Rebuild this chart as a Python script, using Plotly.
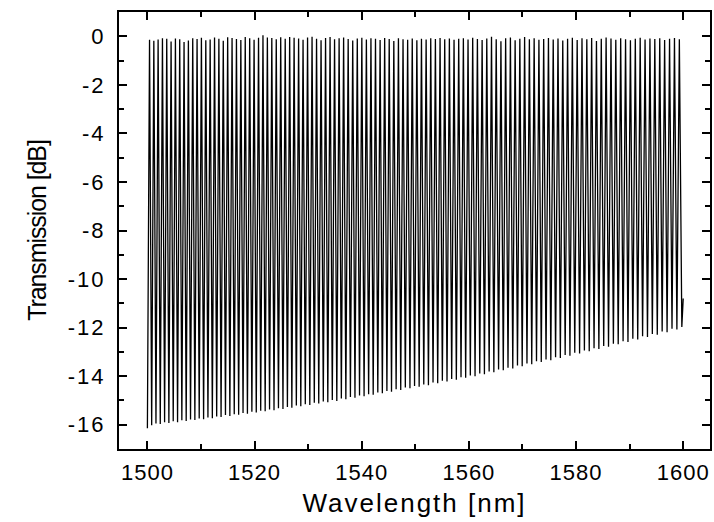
import plotly.graph_objects as go

# Fringe minima (troughs) of the transmission spectrum
trough_nm = [
    1500.00, 1500.80, 1501.60, 1502.40, 1503.21, 1504.01, 1504.82, 1505.63, 1506.43, 1507.24,
    1508.05, 1508.86, 1509.67, 1510.49, 1511.30, 1512.12, 1512.93, 1513.75, 1514.57, 1515.39,
    1516.21, 1517.03, 1517.85, 1518.67, 1519.50, 1520.32, 1521.15, 1521.98, 1522.80, 1523.63,
    1524.46, 1525.30, 1526.13, 1526.96, 1527.80, 1528.63, 1529.47, 1530.31, 1531.15, 1531.98,
    1532.83, 1533.67, 1534.51, 1535.35, 1536.20, 1537.04, 1537.89, 1538.74, 1539.59, 1540.44,
    1541.29, 1542.14, 1543.00, 1543.85, 1544.70, 1545.56, 1546.42, 1547.28, 1548.14, 1549.00,
    1549.86, 1550.72, 1551.58, 1552.45, 1553.31, 1554.18, 1555.05, 1555.92, 1556.79, 1557.66,
    1558.53, 1559.40, 1560.27, 1561.15, 1562.03, 1562.90, 1563.78, 1564.66, 1565.54, 1566.42,
    1567.30, 1568.19, 1569.07, 1569.95, 1570.84, 1571.73, 1572.62, 1573.51, 1574.40, 1575.29,
    1576.18, 1577.07, 1577.97, 1578.86, 1579.76, 1580.66, 1581.56, 1582.46, 1583.36, 1584.26,
    1585.16, 1586.06, 1586.97, 1587.87, 1588.78, 1589.69, 1590.60, 1591.51, 1592.42, 1593.33,
    1594.24, 1595.16, 1596.07, 1596.99, 1597.91, 1598.82, 1599.74,
]
trough_db = [
    -16.15, -16.02, -15.95, -15.97, -15.90, -15.93, -15.86, -15.90, -15.82, -15.85,
    -15.78, -15.81, -15.74, -15.77, -15.70, -15.73, -15.66, -15.68, -15.60, -15.64,
    -15.57, -15.59, -15.52, -15.55, -15.47, -15.50, -15.42, -15.45, -15.37, -15.40,
    -15.32, -15.35, -15.27, -15.30, -15.21, -15.24, -15.16, -15.19, -15.10, -15.13,
    -15.04, -15.07, -14.98, -15.02, -14.92, -14.95, -14.86, -14.89, -14.80, -14.83,
    -14.74, -14.77, -14.67, -14.70, -14.61, -14.64, -14.54, -14.57, -14.47, -14.50,
    -14.41, -14.44, -14.34, -14.37, -14.26, -14.29, -14.19, -14.22, -14.12, -14.15,
    -14.04, -14.07, -13.97, -14.00, -13.89, -13.92, -13.81, -13.84, -13.73, -13.76,
    -13.65, -13.68, -13.56, -13.59, -13.48, -13.51, -13.39, -13.42, -13.31, -13.34,
    -13.22, -13.25, -13.13, -13.16, -13.04, -13.07, -12.94, -12.97, -12.85, -12.88,
    -12.76, -12.79, -12.66, -12.69, -12.56, -12.59, -12.46, -12.49, -12.36, -12.39,
    -12.26, -12.29, -12.16, -12.19, -12.05, -12.08, -11.97,
]

# Fringe maxima (peaks)
peak_nm = [
    1500.40, 1501.20, 1502.00, 1502.81, 1503.61, 1504.42, 1505.23, 1506.03, 1506.84, 1507.65,
    1508.46, 1509.27, 1510.08, 1510.90, 1511.71, 1512.53, 1513.34, 1514.16, 1514.98, 1515.80,
    1516.62, 1517.44, 1518.26, 1519.09, 1519.91, 1520.74, 1521.57, 1522.39, 1523.22, 1524.05,
    1524.88, 1525.72, 1526.55, 1527.38, 1528.22, 1529.05, 1529.89, 1530.73, 1531.57, 1532.41,
    1533.25, 1534.09, 1534.93, 1535.78, 1536.62, 1537.47, 1538.32, 1539.17, 1540.02, 1540.87,
    1541.72, 1542.57, 1543.43, 1544.28, 1545.13, 1545.99, 1546.85, 1547.71, 1548.57, 1549.43,
    1550.29, 1551.15, 1552.02, 1552.88, 1553.75, 1554.62, 1555.49, 1556.36, 1557.23, 1558.10,
    1558.97, 1559.84, 1560.71, 1561.59, 1562.47, 1563.34, 1564.22, 1565.10, 1565.98, 1566.86,
    1567.75, 1568.63, 1569.51, 1570.40, 1571.29, 1572.18, 1573.07, 1573.96, 1574.85, 1575.74,
    1576.63, 1577.52, 1578.42, 1579.31, 1580.21, 1581.11, 1582.01, 1582.91, 1583.81, 1584.71,
    1585.61, 1586.52, 1587.42, 1588.33, 1589.24, 1590.15, 1591.06, 1591.97, 1592.88, 1593.79,
    1594.70, 1595.62, 1596.53, 1597.45, 1598.37, 1599.28,
]
peak_db = [
    -0.14, -0.18, -0.13, -0.08, -0.10, -0.22, -0.09, -0.12, -0.24, -0.17,
    -0.08, -0.11, -0.06, -0.16, -0.13, -0.05, -0.10, -0.18, -0.04, -0.07,
    -0.11, -0.15, -0.03, -0.08, -0.14, -0.06, 0.04, -0.05, -0.07, -0.12,
    -0.04, -0.10, -0.03, -0.06, -0.09, -0.14, -0.05, -0.02, -0.10, -0.16,
    -0.07, -0.03, -0.12, -0.08, -0.05, -0.11, -0.17, -0.09, -0.06, -0.13,
    -0.08, -0.10, -0.15, -0.07, -0.11, -0.19, -0.08, -0.12, -0.14, -0.09,
    -0.16, -0.10, -0.13, -0.08, -0.11, -0.07, -0.12, -0.09, -0.14, -0.10,
    -0.08, -0.13, -0.06, -0.11, -0.15, -0.09, -0.02, -0.12, -0.20, -0.08,
    -0.05, -0.16, -0.10, -0.03, -0.12, -0.08, -0.14, -0.11, -0.07, -0.13,
    -0.09, -0.17, -0.10, -0.06, -0.15, -0.08, -0.12, -0.07, -0.19, -0.10,
    -0.05, -0.09, -0.14, -0.08, -0.12, -0.16, -0.10, -0.06, -0.13, -0.09,
    -0.11, -0.08, -0.15, -0.10, -0.07, -0.12,
]

# Last recorded sample at the end of the scan
end_nm = [1600.00]
end_db = [-10.80]

x_ticks = [1500, 1520, 1540, 1560, 1580, 1600]
x_labels = ["1500", "1520", "1540", "1560", "1580", "1600"]
y_ticks = [0, -2, -4, -6, -8, -10, -12, -14, -16]
y_labels = ["0", "-2", "-4", "-6", "-8", "-10", "-12", "-14", "-16"]

# Interleave troughs and peaks into the measured trace
wl, tr = [], []
for i in range(len(trough_nm)):
    wl.append(trough_nm[i]); tr.append(trough_db[i])
    if i < len(peak_nm):
        wl.append(peak_nm[i]); tr.append(peak_db[i])
wl += end_nm
tr += end_db

FONT = "Liberation Sans, Arial, sans-serif"


def spaced(s, px):
    return f'<span style="letter-spacing:{px}px">{s}</span>'


fig = go.Figure()
fig.add_trace(go.Scatter(
    x=wl, y=tr, mode="lines",
    line=dict(color="black", width=1.3),
    showlegend=False, hoverinfo="skip",
))

axis_common = dict(
    showline=True, linecolor="black", linewidth=2,
    mirror="allticks", ticks="inside", tickwidth=1.5, ticklen=8,
    tickcolor="black", showgrid=False, zeroline=False,
    tickfont=dict(family=FONT, size=22, color="black"),
)

fig.update_xaxes(
    range=[1494.7, 1605.0], tickvals=x_ticks,
    ticktext=[spaced(t, 1) for t in x_labels],
    ticklabelstandoff=3,
    title=dict(text=spaced("Wavelength [nm]", 2),
               font=dict(family=FONT, size=26, color="black"), standoff=9),
    minor=dict(dtick=10, tick0=1500, ticks="inside", ticklen=5, tickwidth=1.5, tickcolor="black"),
    **axis_common,
)
fig.update_yaxes(
    range=[-17, 1], tickvals=y_ticks,
    ticktext=[spaced(t, 2) for t in y_labels],
    ticklabelstandoff=7,
    title=dict(text=spaced("Transmission [dB]", -1.1),
               font=dict(family=FONT, size=25, color="black"), standoff=14),
    minor=dict(dtick=1, tick0=0, ticks="inside", ticklen=5, tickwidth=1.5, tickcolor="black"),
    **axis_common,
)

fig.update_layout(
    width=714, height=522,
    margin=dict(l=119, r=2, t=12, b=73),
    paper_bgcolor="white", plot_bgcolor="white",
    font=dict(family=FONT, color="black"),
)

fig.write_html("out.html")
